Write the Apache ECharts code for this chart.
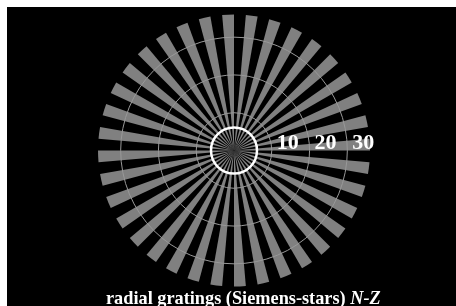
<!DOCTYPE html>
<html><head><meta charset="utf-8">
<script src="https://cdn.jsdelivr.net/npm/echarts@6/dist/echarts.min.js"></script>
<style>
html,body{margin:0;padding:0;background:#fff;width:456px;height:306px;overflow:hidden}
#c{position:absolute;left:7px;top:7px;width:449px;height:299px;background:#000}
</style></head>
<body><div id="c"></div>
<script>
// angular slots of 5 degrees each (counter-clockwise from 0)
var angleCategories = ['0','5','10','15','20','25','30','35','40','45','50','55','60','65','70','75','80','85','90','95','100','105','110','115','120','125','130','135','140','145','150','155','160','165','170','175','180','185','190','195','200','205','210','215','220','225','230','235','240','245','250','255','260','265','270','275','280','285','290','295','300','305','310','315','320','325','330','335','340','345','350','355'];
// grating: gray wedge (radius 36) alternating with gap (0)
var wedgeValues = [36,0,36,0,36,0,36,0,36,0,36,0,36,0,36,0,36,0,36,0,36,0,36,0,36,0,36,0,36,0,36,0,36,0,36,0,36,0,36,0,36,0,36,0,36,0,36,0,36,0,36,0,36,0,36,0,36,0,36,0,36,0,36,0,36,0,36,0,36,0,36,0];
var radiusTickLabels = ['10','20','30'];
var radiusMax = 36;
var titleMain = 'radial gratings (Siemens-stars) ';
var titleItalic = 'N-Z';

var chart = echarts.init(document.getElementById('c'), null, {renderer:'canvas'});
chart.setOption({
  backgroundColor:'#000',
  animation:false,
  title:{
    text:'{a|' + titleMain + '}{b|' + titleItalic + '}',
    left:99, top:282, padding:0,
    textStyle:{
      rich:{
        a:{color:'#fff',fontFamily:'Liberation Serif',fontWeight:'bold',fontSize:18.3,lineHeight:20},
        b:{color:'#fff',fontFamily:'Liberation Serif',fontWeight:'bold',fontStyle:'italic',fontSize:18.3,lineHeight:20}
      }
    }
  },
  polar:[
    {center:[227,143.5], radius:136},
    {center:[227,143.5], radius:23}
  ],
  angleAxis:[
    {polarIndex:0, type:'category', data:angleCategories, startAngle:0, clockwise:false,
     axisLine:{show:false}, axisTick:{show:false}, axisLabel:{show:false}, splitLine:{show:false}},
    {polarIndex:1, type:'value', min:0, max:360, startAngle:0, z:12,
     axisLine:{show:true, lineStyle:{color:'#fff', width:2.5}},
     axisTick:{show:false}, axisLabel:{show:false}, splitLine:{show:false}}
  ],
  radiusAxis:[
    {polarIndex:0, type:'value', min:0, max:radiusMax, interval:10, z:10,
     axisLine:{show:false}, axisTick:{show:false},
     splitLine:{show:true, lineStyle:{color:['#999','#999','#999','#999','rgba(0,0,0,0)'], width:1}},
     axisLabel:{
       color:'#fff', fontFamily:'Liberation Serif', fontWeight:'bold', fontSize:22,
       align:'left', verticalAlign:'bottom', margin:-4, padding:[0,0,0,5],
       formatter:function(v){ var s=String(v); return radiusTickLabels.indexOf(s)>=0 ? s : ''; }
     }},
    {polarIndex:1, type:'value', min:0, max:1, show:false}
  ],
  series:[{
    type:'bar', coordinateSystem:'polar', polarIndex:0,
    data:wedgeValues, barCategoryGap:'0%', barGap:'0%',
    itemStyle:{color:'#808080'}, silent:true
  }]
});
</script></body></html>
